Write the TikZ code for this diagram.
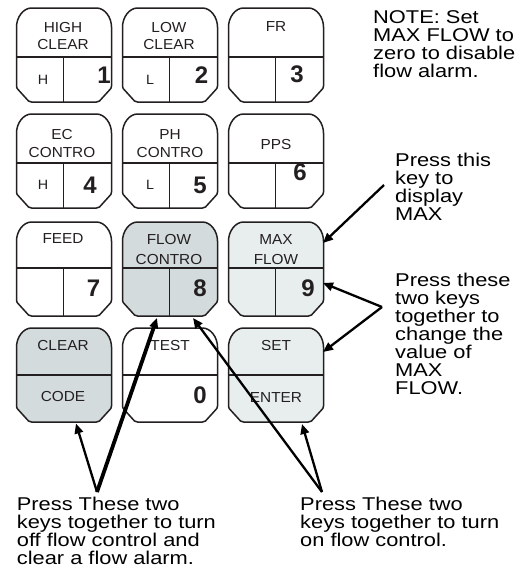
\documentclass[tikz,border=0pt]{standalone}
\usepackage{fontspec}
\setmainfont{Liberation Sans}
\newfontfamily\notefont[FakeStretch=1.18]{Liberation Sans}
\newfontfamily\keyfont[FakeStretch=1.06]{Liberation Sans}
\usetikzlibrary{arrows.meta,calc}
\definecolor{keyc}{HTML}{231F20}
\definecolor{keydark}{HTML}{D3DBDC}
\definecolor{keylight}{HTML}{E8EEEE}
\tikzset{
  keybox/.style={minimum width=95pt, minimum height=94pt, inner sep=0pt, outer sep=0pt},
  keyline/.style={draw=keyc, line width=1.5pt, line join=round},
  klabel/.style={font=\keyfont\fontsize{14.5}{17}\selectfont, text=keyc, align=center, inner sep=0pt},
  ksmall/.style={font=\keyfont\fontsize{13.5}{15}\selectfont, text=keyc, inner sep=0pt},
  knum/.style={font=\bfseries\fontsize{24}{24}\selectfont, text=keyc, inner sep=0pt},
  note/.style={font=\notefont\fontsize{18.5}{18}\selectfont, align=left, anchor=north west, inner sep=0pt},
  arr/.style={line width=2.3pt, -{Triangle[length=10pt,width=8.5pt]}},
  arrthick/.style={line width=3.8pt, -{Triangle[length=10pt,width=8.5pt]}},
}
\newcommand\keyoutline[2]{%
  \draw[keyline,fill=#2]
    ([shift={(15,0)}]#1.north west) -- ([shift={(-15,0)}]#1.north east)
    .. controls ([shift={(-7,0)}]#1.north east) and ([shift={(0,9)}]#1.north east) .. ([shift={(0,19)}]#1.north east)
    -- ([shift={(0,78)}]#1.north east)
    .. controls ([shift={(0,80)}]#1.north east) and ([shift={(-1,81)}]#1.north east) .. ([shift={(-2,82)}]#1.north east)
    -- ([shift={(-12,-1)}]#1.south east)
    .. controls ([shift={(-13,0)}]#1.south east) and ([shift={(-14,0)}]#1.south east) .. ([shift={(-15,0)}]#1.south east)
    -- ([shift={(15,0)}]#1.south west)
    .. controls ([shift={(14,0)}]#1.south west) and ([shift={(13,0)}]#1.south west) .. ([shift={(12,-1)}]#1.south west)
    -- ([shift={(2,82)}]#1.north west)
    .. controls ([shift={(1,81)}]#1.north west) and ([shift={(0,80)}]#1.north west) .. ([shift={(0,78)}]#1.north west)
    -- ([shift={(0,19)}]#1.north west)
    .. controls ([shift={(0,9)}]#1.north west) and ([shift={(7,0)}]#1.north west) .. cycle;}
\newcommand\keyhdiv[2]{%
  \draw[keyline] ([shift={(0,#2)}]#1.north west) -- ([shift={(0,#2)}]#1.north east);}
\newcommand\keyvdiv[2]{%
  \draw[keyline] ([shift={(47,#2)}]#1.north west) -- ([shift={(47,0)}]#1.south west);}
\begin{document}
\begin{tikzpicture}[x=1pt,y=-1pt]
\fill[white] (0,0) rectangle (522,571);
\useasboundingbox (0,0) rectangle (522,571);

% key frames
\node[keybox] (k1) at (64,55) {};
\node[keybox] (k2) at (170,55) {};
\node[keybox] (k3) at (276,55) {};
\node[keybox] (k4) at (64,161) {};
\node[keybox] (k5) at (170,161) {};
\node[keybox] (k6) at (276,161) {};
\node[keybox] (k7) at (64,269) {};
\node[keybox] (k8) at (170,269) {};
\node[keybox] (k9) at (276,269) {};
\node[keybox] (k10) at (64,375) {};
\node[keybox] (k11) at (170,375) {};
\node[keybox] (k12) at (276,375) {};

\keyoutline{k1}{white}\keyhdiv{k1}{49}\keyvdiv{k1}{49}
\keyoutline{k2}{white}\keyhdiv{k2}{49}\keyvdiv{k2}{49}
\keyoutline{k3}{white}\keyhdiv{k3}{49}\keyvdiv{k3}{49}
\keyoutline{k4}{white}\keyhdiv{k4}{49}\keyvdiv{k4}{49}
\keyoutline{k5}{white}\keyhdiv{k5}{49}\keyvdiv{k5}{49}
\keyoutline{k6}{white}\keyhdiv{k6}{49}\keyvdiv{k6}{49}
\keyoutline{k7}{white}\keyhdiv{k7}{46}\keyvdiv{k7}{46}
\keyoutline{k8}{keydark}\keyhdiv{k8}{46}\keyvdiv{k8}{46}
\keyoutline{k9}{keylight}\keyhdiv{k9}{46}\keyvdiv{k9}{46}
\keyoutline{k10}{keydark}\keyhdiv{k10}{47}
\keyoutline{k11}{white}\keyhdiv{k11}{47}
\keyoutline{k12}{keylight}\keyhdiv{k12}{47}

% key texts
\node[klabel] (l1) at (63,36.5) {HIGH\\CLEAR};
\node[ksmall] (s1) at (43,80) {H};
\node[knum] (n1) at (104,75) {1};
\node[klabel] (l2) at (169,36.5) {LOW\\CLEAR};
\node[ksmall] (s2) at (150,80) {L};
\node[knum] (n2) at (201.5,75) {2};
\node[klabel] (l3) at (276,27) {FR};
\node[knum] (n3) at (297,74) {3};

\node[klabel] (l4) at (62,144) {EC\\[1pt]CONTRO};
\node[ksmall] (s4) at (43,185) {H};
\node[knum] (n4) at (90,185) {4};
\node[klabel] (l5) at (170,144) {PH\\[1pt]CONTRO};
\node[ksmall] (s5) at (150,185) {L};
\node[knum] (n5) at (200,185) {5};
\node[klabel] (l6) at (276,145) {PPS};
\node[knum] (n6) at (300,172) {6};

\node[klabel] (l7) at (63,239) {FEED};
\node[knum] (n7) at (93.5,288.5) {7};
\node[klabel] (l8) at (169,249.5) {FLOW\\[3pt]CONTRO};
\node[knum] (n8) at (200,288) {8};
\node[klabel] (l9) at (276,249.5) {MAX\\[3pt]FLOW};
\node[knum] (n9) at (308,288) {9};

\node[klabel] (l10) at (63,346) {CLEAR};
\node[klabel] (c10) at (63,397) {CODE};
\node[klabel] (l11) at (170,346) {TEST};
\node[knum] (n0) at (200,395) {0};
\node[klabel] (l12) at (276,346) {SET};
\node[klabel] (c12) at (276,398) {ENTER};

% notes
\node[note] (tnote) at (373,10.5) {NOTE: Set\\MAX FLOW to\\zero to disable\\flow alarm.};
\node[note] (tdisp) at (395,153.2) {Press this\\key to\\display\\MAX};
\node[note] (tchg) at (395,273.2) {Press these\\two keys\\together to\\change the\\value of\\MAX\\FLOW.};
\node[note] (toff) at (16.7,496.5) {Press These two\\keys together to turn\\off flow control and\\clear a flow alarm.};
\node[note] (ton) at (300,497) {Press These two\\keys together to turn\\on flow control.};

% connectors
\coordinate (a1) at (384,185);
\coordinate (apM) at (382,307);
\coordinate (apL) at (97,492);
\coordinate (apR) at (322,492);

\draw[arr] (a1) -- ([shift={(-0.5,21)}]k9.north east);
\draw[arr] (apM) -- ([shift={(-0.5,61)}]k9.north east);
\draw[arr] (apM) -- ([shift={(-0.5,24)}]k12.north east);
\draw[arr] (apL) -- ([shift={(12,1.5)}]k10.south);
\draw[arrthick] (apL) -- ([shift={(-13,2)}]k8.south);
\draw[arr] (apR) -- ([shift={(23,2)}]k8.south);
\draw[arr] (apR) -- ([shift={(26,2)}]k12.south);
\end{tikzpicture}
\end{document}
